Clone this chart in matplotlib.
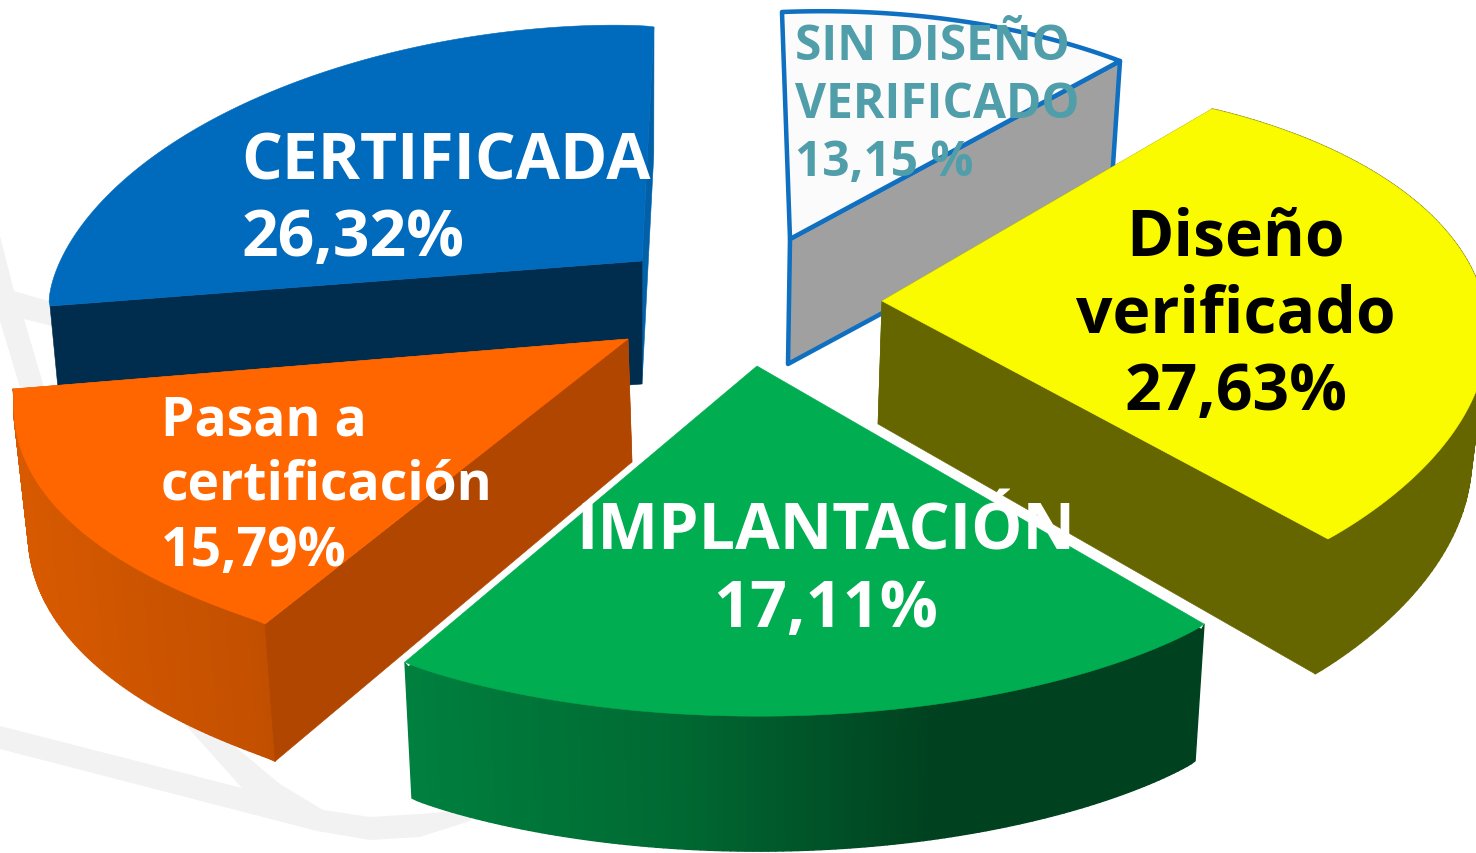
import numpy as np
import matplotlib
matplotlib.use('Agg')
import matplotlib.pyplot as plt
from matplotlib.patches import Polygon
from matplotlib.collections import PolyCollection
from matplotlib.colors import to_rgb

values = [13.15, 27.63, 17.11, 15.79, 26.32]
label_lines = [['SIN DISEÑO', 'VERIFICADO', '13,15 %'],
               ['Diseño', 'verificado', '27,63%'],
               ['IMPLANTACIÓN', '17,11%'],
               ['Pasan a', 'certificación', '15,79%'],
               ['CERTIFICADA', '26,32%']]
top_colors = ['#fbfbfb', '#fbfb00', '#00ad50', '#ff6600', '#006abd']
start_cut = [None, '#666600', None, '#b04600', '#002c4e']   # face along the first edge
end_cut = ['#a0a0a0', '#666600', None, '#d85a00', '#0060a8']  # face along the last edge
rim_stops = [None, ['#666600', '#666600'], ['#00803e', '#006a33', '#00411f', '#00411f'],
             ['#d85a00', '#c24f00'], None]
text_colors = ['#509ea9', '#000000', '#ffffff', '#ffffff', '#ffffff']

# perspective of the pie plane, in pixels
CO = [584.58, -9.787, -18.562, -273.6, 0.017332, 0.24418]
# per-slice placement
tips = [(790, 240), (882, 302), (757, 367), (628, 340), (642, 262)]
bottoms = [(788, 365, .98, .98), (878, 425, .98, 1.05), (757, 509, .98, .98), (632, 463, .983, 1.05), (642, 385, .98, .98)]
warps = [(0.9202, 0.0035, -0.0099, 1.0326), (0.9912, 0.1543, -0.0719, 0.9836), (1.0624, 0.0512, 0.0107, 0.9334),
         (1.0151, -0.0341, -0.0216, 0.8643), (0.9731, -0.0894, 0.0008, 1.0641)]
bulges = [0.0, 0.01, 0.035, -0.03, 0.055]
text_pos = [(795, 'left', (60, 118, 176), 34.5), (1236, 'center', (256, 333, 410), 46.2),
            (826, 'center', (550, 627), 46.5), (161, 'left', (436, 500, 566), 38.5), (241, 'left', (180, 256), 46.2)]
watermark = [[(0, 727), (242, 789), (183, 723), (232, 745), (280, 785), (323, 811), (370, 818), (420, 815), (480, 810),
              (470, 822), (420, 838), (370, 841), (317, 832), (0, 750)],
             [(0, 237), (14, 292), (52, 303), (52, 327), (24, 320), (46, 395), (22, 395), (0, 322)]]

def proj(th):
    s, c = np.sin(np.radians(th)), np.cos(np.radians(th))
    d = 1 + CO[4] * s + CO[5] * c
    return np.c_[(CO[0] * s + CO[1] * c) / d, (CO[2] * s + CO[3] * c) / d]

fig = plt.figure(figsize=(14.76, 8.54), dpi=100)
ax = fig.add_axes([0, 0, 1, 1]); ax.set_xlim(0, 1476); ax.set_ylim(854, 0); ax.axis('off')
px = 0.72

for w in watermark:
    ax.add_patch(Polygon(w, fc='#f2f2f2', ec='none', zorder=0))

edges = np.concatenate([[0], np.cumsum(values)]) * 3.6
order = [4, 0, 1, 3, 2]
for z, i in enumerate(order):
    th = np.linspace(edges[i], edges[i + 1], 120)
    t = np.linspace(0, 1, 120)
    p = proj(th)
    M = np.array(warps[i]).reshape(2, 2)
    arc = (p @ M.T) * (1 + bulges[i] * np.sin(np.pi * t) ** .7)[:, None]
    tip = np.array(tips[i], float)
    bx, by, sx, sy = bottoms[i]
    btip = np.array([bx, by], float)
    top = arc + tip
    bot = arc * [sx, sy] + btip
    zb = 10 + z * 10
    oc = '#0f6fc0'
    # hidden face first, then the rim, then the face that shows
    if end_cut[i] and i != 0:
        ax.add_patch(Polygon([tip, top[-1], bot[-1], btip], fc=end_cut[i], ec=end_cut[i], lw=.4, zorder=zb))
    if rim_stops[i] is not None:
        st = np.array([to_rgb(c) for c in rim_stops[i]])
        tt = (top[:, 0] - top[:, 0].min()) / np.ptp(top[:, 0])
        cols = np.c_[[np.interp(tt, np.linspace(0, 1, len(st)), st[:, k]) for k in range(3)]].T
        quads = [[top[j], top[j + 1], bot[j + 1], bot[j]] for j in range(len(top) - 1)]
        ax.add_collection(PolyCollection(quads, facecolors=cols[:-1], edgecolors=cols[:-1], linewidths=1.0, zorder=zb + 1))
    if start_cut[i]:
        ax.add_patch(Polygon([tip, top[0], bot[0], btip], fc=start_cut[i], ec=start_cut[i], lw=.4, zorder=zb + 2))
    poly = np.r_[[tip], top]
    if i == 2:
        ax.plot([top[0, 0], tip[0], top[-1, 0]], [top[0, 1], tip[1], top[-1, 1]], color='white', lw=11 * px,
                zorder=zb + 3, solid_joinstyle='miter', solid_capstyle='butt')
    if i == 0:
        f = np.array([tip, top[-1], bot[-1], btip])
        ax.add_patch(Polygon(f, fc=end_cut[i], ec=oc, lw=4.5 * px, zorder=zb + 3, joinstyle='round'))
        ax.add_patch(Polygon(poly, fc=top_colors[i], ec=oc, lw=4.5 * px, zorder=zb + 4, joinstyle='round'))
    else:
        ax.add_patch(Polygon(poly, fc=top_colors[i], ec=top_colors[i], lw=.4, zorder=zb + 4))

for i, (x, ha, ys, fs) in enumerate(text_pos):
    for line, y in zip(label_lines[i], ys):
        ax.text(x, y, line, ha=ha, va='baseline', fontsize=fs, family='Open Sans', fontweight='bold',
                color=text_colors[i], zorder=100)
fig.savefig('out.png')
